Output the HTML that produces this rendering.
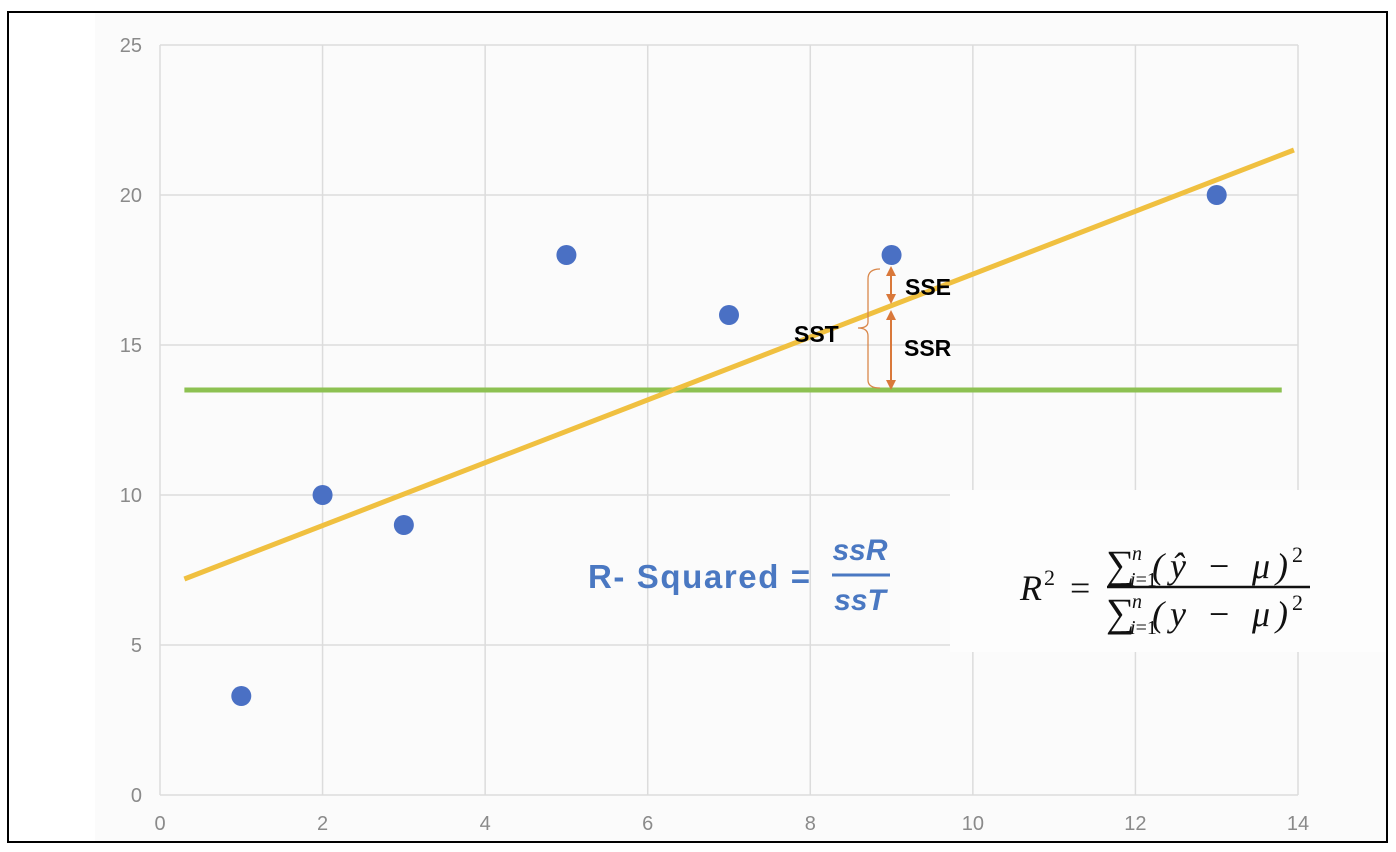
<!DOCTYPE html>
<html><head><meta charset="utf-8"><style>
html,body{margin:0;padding:0;background:#fff;}
svg{display:block;font-family:"Liberation Sans",sans-serif;}
</style></head><body>
<svg id="c" width="1396" height="852" viewBox="0 0 1396 852">
<rect x="0" y="0" width="1396" height="852" fill="#fff"/>
<rect x="95" y="12" width="1292" height="830" fill="#fbfbfb"/>
<g id="grid"></g>
<g id="ticks"></g>
<rect x="950" y="490" width="437" height="162" fill="#fdfdfd"/>
<g id="lines"></g>
<g id="pts"></g>
<g>
<path d="M880 269 Q868 269 868 279 L868 322 Q868 328 858 328 Q868 328 868 336 L868 380 Q868 388 880 388" fill="none" stroke="#d9874a" stroke-width="1.3"/>
<line x1="891" y1="270" x2="891" y2="300" stroke="#d9783a" stroke-width="2"/>
<path d="M886 276 L891 266 L896 276Z M886 294 L891 304 L896 294Z" fill="#d9783a"/>
<line x1="891" y1="314" x2="891" y2="385" stroke="#d9783a" stroke-width="2"/>
<path d="M886 320 L891 310 L896 320Z M886 380 L891 390 L896 380Z" fill="#d9783a"/>
<text x="905" y="295" font-size="23" font-weight="bold">SSE</text>
<text x="904" y="356" font-size="23" font-weight="bold">SSR</text>
<text x="794" y="342" font-size="23" font-weight="bold">SST</text>
</g>
<g fill="#4a78c2" font-weight="bold">
<text x="588" y="588" font-size="33" textLength="222">R- Squared =</text>
<text x="860" y="560" font-size="30" font-style="italic" text-anchor="middle">ssR</text>
<line x1="832" y1="575" x2="890" y2="575" stroke="#4a78c2" stroke-width="3"/>
<text x="860" y="610" font-size="30" font-style="italic" text-anchor="middle">ssT</text>
</g>
<g font-family="Liberation Serif,serif" fill="#111">
<text x="1020" y="600" font-size="36" font-style="italic">R</text>
<text x="1044" y="585" font-size="22">2</text>
<text x="1070" y="600" font-size="36">=</text>
<text x="1106" y="578" font-size="40">∑</text>
<text x="1132" y="560" font-size="20" font-style="italic">n</text>
<text x="1130" y="586" font-size="20"><tspan font-style="italic">i</tspan>=1</text>
<text x="1152" y="578" font-size="36" font-style="italic" textLength="136">(ŷ − μ)</text>
<text x="1292" y="562" font-size="22">2</text>
<line x1="1107" y1="587" x2="1310" y2="587" stroke="#111" stroke-width="2.5"/>
<text x="1106" y="626" font-size="40">∑</text>
<text x="1132" y="608" font-size="20" font-style="italic">n</text>
<text x="1130" y="634" font-size="20"><tspan font-style="italic">i</tspan>=1</text>
<text x="1152" y="626" font-size="36" font-style="italic" textLength="136">(y − μ)</text>
<text x="1292" y="610" font-size="22">2</text>
</g>
<rect x="8" y="12" width="1379" height="830" fill="none" stroke="#000" stroke-width="2"/>
</svg>
<script>
const xVals=[1,2,3,5,7,9,13];
const yVals=[3.3,10,9,18,16,18,20];
const xTicks=[0,2,4,6,8,10,12,14];
const yTicks=[0,5,10,15,20,25];
const fitLine=[[0.3,7.2],[13.95,21.5]];
const meanLine=[[0.3,13.5],[13.8,13.5]];
const X=v=>160+v*(1138/14), Y=v=>795-v*30;
const NS="http://www.w3.org/2000/svg";
function mk(t,a,p){const e=document.createElementNS(NS,t);for(const k in a)e.setAttribute(k,a[k]);p.appendChild(e);return e;}
const g=document.getElementById('grid'),tk=document.getElementById('ticks');
xTicks.forEach(v=>{const l=mk('line',{x1:X(v),x2:X(v),y1:45,y2:795,stroke:'#dcdcdc','stroke-width':1.5},g);


const t=mk('text',{x:X(v),y:830,'text-anchor':'middle','font-size':20,fill:'#8a8a8a'},tk);t.textContent=v;

});
yTicks.forEach(v=>{const l=mk('line',{x1:160,x2:1298,y1:Y(v),y2:Y(v),stroke:'#dcdcdc','stroke-width':1.5},g);


const t=mk('text',{x:142,y:Y(v)+7,'text-anchor':'end','font-size':20,fill:'#8a8a8a'},tk);t.textContent=v;

});
const ln=document.getElementById('lines');
const m=mk('line',{x1:X(meanLine[0][0]),y1:Y(meanLine[0][1]),x2:X(meanLine[1][0]),y2:Y(meanLine[1][1]),stroke:'#8dc152','stroke-width':5},ln);


const f=mk('line',{x1:X(fitLine[0][0]),y1:Y(fitLine[0][1]),x2:X(fitLine[1][0]),y2:Y(fitLine[1][1]),stroke:'#f0c040','stroke-width':5},ln);


const pg=document.getElementById('pts');
xVals.forEach((x,i)=>{const c=mk('circle',{cx:X(x),cy:Y(yVals[i]),r:10,fill:'#4a70c4'},pg);

});
</script>
</body></html>
